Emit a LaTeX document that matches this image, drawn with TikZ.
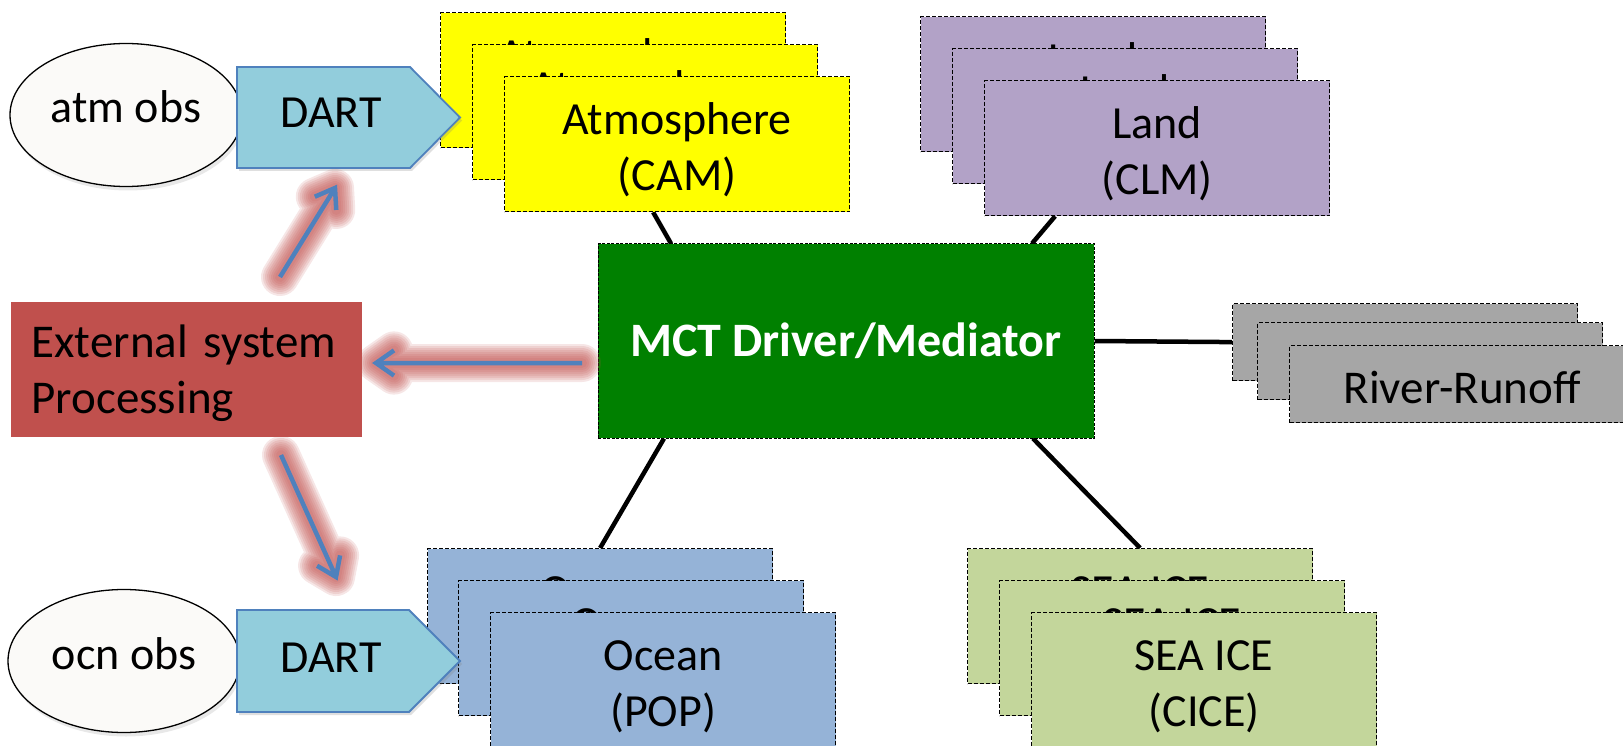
\documentclass[tikz,border=0pt]{standalone}
\usepackage{fontspec}
\setmainfont{Carlito}
\usetikzlibrary{calc,shapes.geometric,shadows,backgrounds}
\definecolor{atmY}{HTML}{FFFF00}
\definecolor{lndP}{HTML}{B2A2C7}
\definecolor{mctG}{HTML}{008000}
\definecolor{rivG}{HTML}{A6A6A6}
\definecolor{extR}{HTML}{C0504D}
\definecolor{ocnB}{HTML}{95B3D7}
\definecolor{iceG}{HTML}{C3D69B}
\definecolor{dartB}{HTML}{92CDDC}
\definecolor{dartL}{HTML}{4F81BD}
\definecolor{obsW}{HTML}{FBFAF8}
\newcommand\myglowarrow[2]{%
  \foreach \w in {38,34,30,26,22,18,14,10}{%
    \draw[line width=\w pt, draw=extR, draw opacity=0.14, line cap=round, line join=round]
      (#1) -- (#2) ($(#2)!22pt!35:(#1)$) -- (#2) -- ($(#2)!22pt!-35:(#1)$);
  }%
  \draw[bluearr] (#1) -- (#2) ($(#2)!22pt!35:(#1)$) -- (#2) -- ($(#2)!22pt!-35:(#1)$);
}
\newcommand\mystrut{\rule{0pt}{43pt}}
\begin{document}
\begin{tikzpicture}[x=1pt,y=-1pt,
  comp/.style={draw=black, line width=1.2pt, dash pattern=on 4pt off 2pt,
    minimum width=345pt, minimum height=135pt, inner sep=0pt, anchor=north west,
    align=center, font=\fontsize{46}{56}\selectfont},
  rivbox/.style={comp, minimum height=77pt, font=\fontsize{47}{52}\selectfont},
  obs/.style={ellipse, draw=black, line width=1.3pt, fill=obsW, minimum width=232pt,
    minimum height=143pt, inner sep=0pt, font=\fontsize{46}{56}\selectfont,
    text height=34pt, text depth=18pt,
    drop shadow={opacity=0.18, shadow xshift=2pt, shadow yshift=-4pt}},
  dartshape/.style={fill=dartB, draw=dartL, line width=1.8pt, line join=miter,
    drop shadow={opacity=0.25, shadow xshift=2pt, shadow yshift=-3pt}},
  txt/.style={font=\fontsize{46}{56}\selectfont, text height=34pt, text depth=18pt, inner sep=0pt},
  conn/.style={line width=4.5pt, draw=black},
  bluearr/.style={line width=4.5pt, draw=dartL, line join=miter},
]
\useasboundingbox (0,0) rectangle (1623,746);
\clip (0,0) rectangle (1623,746);

% Atmosphere stack
\node[comp, fill=atmY] (atm1) at (440,12) {\mystrut Atmosphere\\(CAM)};
\node[comp, fill=atmY] (atm2) at (472,44) {\mystrut Atmosphere\\(CAM)};
\node[comp, fill=atmY] (atm3) at (504,76) {\mystrut Atmosphere\\(CAM)};
% Land stack
\node[comp, fill=lndP] (lnd1) at (920,16) {\mystrut Land\\(CLM)};
\node[comp, fill=lndP] (lnd2) at (952,48) {\mystrut Land\\(CLM)};
\node[comp, fill=lndP] (lnd3) at (984,80) {\mystrut Land\\(CLM)};
% River stack
\node[rivbox, fill=rivG] (riv1) at (1232,303) {\rule{0pt}{40pt}River-Runoff};
\node[rivbox, fill=rivG] (riv2) at (1257,322) {\rule{0pt}{40pt}River-Runoff};
\node[rivbox, fill=rivG] (riv3) at (1289,345) {\rule{0pt}{40pt}River-Runoff};
% Ocean stack
\node[comp, fill=ocnB] (ocn1) at (427,548) {\mystrut Ocean\\(POP)};
\node[comp, fill=ocnB] (ocn2) at (458,580) {\mystrut Ocean\\(POP)};
\node[comp, fill=ocnB] (ocn3) at (490,612) {\mystrut Ocean\\(POP)};
% Sea ice stack
\node[comp, fill=iceG] (ice1) at (967,548) {\mystrut SEA ICE\\(CICE)};
\node[comp, fill=iceG] (ice2) at (999,580) {\mystrut SEA ICE\\(CICE)};
\node[comp, fill=iceG] (ice3) at (1031,612) {\mystrut SEA ICE\\(CICE)};

% Driver
\node[fill=mctG, draw=black, line width=1pt, dash pattern=on 3pt off 1.5pt,
  minimum width=496pt, minimum height=194pt, inner sep=0pt, text=white,
  font=\bfseries\fontsize{48}{56}\selectfont] (mct) at (846,341) {MCT Driver/Mediator};

% Observations and DART
\node[obs] (atmobs) at (126,115) {atm obs};
\path[dartshape] (237,67) -- (410,67) -- (460,117.5) -- (410,168) -- (237,168) -- cycle;
\node[txt] (dart1) at (331,120) {DART};

\node[obs] (ocnobs) at (124,661) {ocn obs};
\path[dartshape] (237,610) -- (409,610) -- (460,661) -- (409,712) -- (237,712) -- cycle;
\node[txt] (dart2) at (331,664) {DART};

% External processing
\node[fill=extR, minimum width=351pt, minimum height=135pt, text width=310pt,
  inner xsep=20.5pt, inner ysep=0pt, align=left, font=\fontsize{47}{56}\selectfont]
  (ext) at (186.5,369.5) {\rule{0pt}{40pt}External system\\Processing};

% Glow arrows
\coordinate (g1s) at (280,277);
\coordinate (g1e) at (335,188);
\coordinate (g2s) at (582,363);
\coordinate (g2e) at (376,363);
\coordinate (g3s) at (281,455);
\coordinate (g3e) at (336,577);
\myglowarrow{g1s}{g1e}
\myglowarrow{g2s}{g2e}
\myglowarrow{g3s}{g3e}

% Connectors
\begin{scope}[on background layer]
\draw[conn] ([xshift=-24pt]atm3.south) -- ([xshift=-175pt]mct.north);
\draw[conn] ([xshift=-102pt]lnd3.south) -- ([xshift=186pt]mct.north);
\draw[conn] (mct.east) -- (riv1.west);
\draw[conn] ([xshift=-182pt]mct.south) -- (ocn1.north);
\draw[conn] ([xshift=187pt]mct.south) -- (ice1.north);
\end{scope}
\end{tikzpicture}
\end{document}
